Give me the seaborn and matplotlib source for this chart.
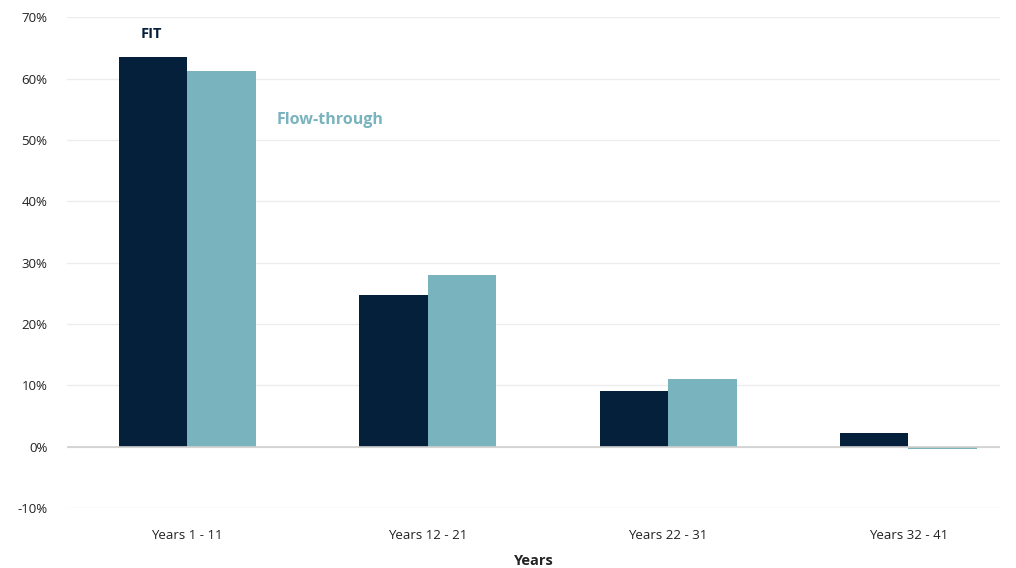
import matplotlib
matplotlib.use("Agg")
import matplotlib.pyplot as plt
import seaborn as sns
import pandas as pd
from matplotlib.ticker import FuncFormatter

categories = ["Years 1 - 11", "Years 12 - 21", "Years 22 - 31", "Years 32 - 41"]
fit_values = [63.6, 24.8, 9.1, 2.3]
flow_values = [61.2, 28.0, 11.1, -0.3]
series_names = ["FIT", "Flow-through"]

df = pd.DataFrame({
    "Years": categories * 2,
    "Value": fit_values + flow_values,
    "Series": [series_names[0]] * 4 + [series_names[1]] * 4,
})

sns.set_theme(style="white")
plt.rcParams["font.family"] = ["Open Sans", "DejaVu Sans"]

dark = "#05203b"
light = "#79b3be"

fig = plt.figure(figsize=(10.16, 5.68), dpi=100)
ax = fig.add_axes([0.066, 0.1056, 0.918, 0.864])

sns.barplot(data=df, x="Years", y="Value", hue="Series",
            palette=[dark, light], width=0.57, saturation=1,
            ax=ax, legend=False, linewidth=0)

ax.set_ylim(-10, 70)
ax.set_xlim(-0.5, 3.38)
ax.set_yticks(range(-10, 71, 10))
ax.yaxis.set_major_formatter(FuncFormatter(lambda v, p: f"{int(v)}%"))
ax.grid(axis="y", color="#ececec", linewidth=1)
ax.set_axisbelow(True)
ax.axhline(0, color="#d0d0d0", linewidth=1.2, zorder=1)
for s in ax.spines.values():
    s.set_visible(False)
ax.tick_params(axis="both", length=0, labelsize=9.5, colors="#222222")
ax.tick_params(axis="y", pad=14)
ax.tick_params(axis="x", pad=15)
ax.set_ylabel("")
ax.set_xlabel("Years", fontsize=10.5, fontweight="bold", color="#222222", labelpad=9)

ax.text(-0.15, 66.2, "FIT", color=dark, fontsize=10.5, fontweight="bold",
        ha="center", va="bottom")
ax.text(0.37, 53.3, "Flow-through", color=light, fontsize=11.5, fontweight="bold",
        ha="left", va="center")

fig.savefig("out.png", dpi=100)
